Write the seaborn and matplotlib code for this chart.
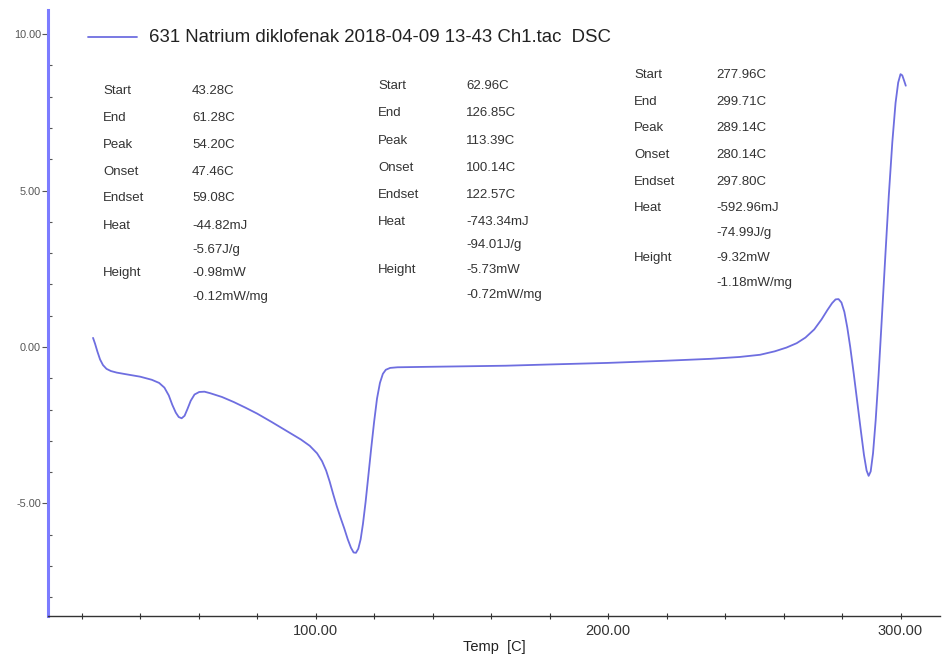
import matplotlib
matplotlib.use("Agg")
import matplotlib.pyplot as plt
from matplotlib.ticker import MultipleLocator, FixedLocator
import seaborn as sns
import pandas as pd

# ---- data ----
temp_c = [23.9, 24.6, 25.4, 26.3, 27.3, 28.5, 30.0, 32.0, 35.0, 40.0, 44.0, 46.5, 48.3,
          49.8, 51.0, 52.2, 53.2, 54.2, 55.2, 56.2, 57.3, 58.6, 60.2, 62.0, 64.0, 68.0,
          72.0, 76.0, 80.0, 85.0, 90.0, 95.0, 98.0, 100.5, 102.2, 103.6, 104.8, 106.0,
          107.2, 108.5, 109.8, 111.0, 112.1, 113.0, 113.8, 114.6, 115.4, 116.2, 117.1,
          118.0, 119.0, 120.0, 121.0, 122.0, 123.0, 124.0, 125.5, 128.0, 135.0,
          150.0, 165.0, 180.0, 200.0, 220.0, 235.0, 245.0, 252.0, 257.0, 261.0,
          264.5, 267.5, 270.5, 273.0, 275.0, 276.6, 277.8, 278.8, 279.8, 280.8,
          281.8, 282.8, 284.0, 285.2, 286.4, 287.5, 288.4, 289.1, 289.8, 290.6,
          291.5, 292.5, 293.6, 294.8, 296.0, 297.2, 298.3, 299.2, 300.0, 300.6,
          301.2, 301.8]
dsc_mw = [0.29, 0.10, -0.15, -0.40, -0.58, -0.70, -0.77, -0.82, -0.87, -0.95, -1.05, -1.15, -1.30,
          -1.55, -1.85, -2.10, -2.24, -2.28, -2.20, -1.98, -1.72, -1.52, -1.44, -1.43, -1.48, -1.60,
          -1.76, -1.94, -2.13, -2.40, -2.68, -2.96, -3.16, -3.40, -3.65, -3.95, -4.30, -4.70,
          -5.08, -5.45, -5.80, -6.15, -6.42, -6.57, -6.58, -6.45, -6.15, -5.65, -4.95,
          -4.15, -3.25, -2.40, -1.65, -1.15, -0.86, -0.73, -0.67, -0.65, -0.64,
          -0.62, -0.60, -0.56, -0.51, -0.44, -0.38, -0.32, -0.25, -0.14, -0.02,
          0.12, 0.30, 0.56, 0.88, 1.18, 1.40, 1.52, 1.53, 1.42, 1.12,
          0.62, 0.00, -0.85, -1.75, -2.65, -3.45, -3.95, -4.12, -3.98, -3.40,
          -2.35, -0.90, 0.90, 2.90, 4.85, 6.55, 7.80, 8.45, 8.72, 8.68,
          8.52, 8.35]

legend_label = "631 Natrium diklofenak 2018-04-09 13-43 Ch1.tac  DSC"
x_major = [100, 200, 300]
x_labels = ["100.00", "200.00", "300.00"]
y_major = [-5, 0, 5, 10]
y_labels = ["-5.00", "0.00", "5.00", "10.00"]

block_keys = ["Start", "End", "Peak", "Onset", "Endset", "Heat", "", "Height", ""]
block1_vals = ["43.28C", "61.28C", "54.20C", "47.46C", "59.08C", "-44.82mJ", "-5.67J/g",
               "-0.98mW", "-0.12mW/mg"]
block2_vals = ["62.96C", "126.85C", "113.39C", "100.14C", "122.57C", "-743.34mJ", "-94.01J/g",
               "-5.73mW", "-0.72mW/mg"]
block3_vals = ["277.96C", "299.71C", "289.14C", "280.14C", "297.80C", "-592.96mJ", "-74.99J/g",
               "-9.32mW", "-1.18mW/mg"]

# ---- figure ----
sns.set_style("white")
plt.rcParams["font.family"] = ["Liberation Sans", "DejaVu Sans"]

W, H = 944, 661
fig = plt.figure(figsize=(W / 100, H / 100), dpi=100)
ax = fig.add_axes([48 / W, 1 - 616 / H, (940 - 48) / W, (616 - 10) / H])

df = pd.DataFrame({"Temp": temp_c, "DSC": dsc_mw})
line_color = "#6e6ee0"
sns.lineplot(data=df, x="Temp", y="DSC", ax=ax, sort=False, color=line_color,
             linewidth=1.3, legend=False)

ax.set_xlim(8.5, 313.5)
ax.set_ylim(-8.6, 10.77)

for s in ["top", "right"]:
    ax.spines[s].set_visible(False)
ax.spines["left"].set_color("#7c7cff")
ax.spines["left"].set_linewidth(2.2)
ax.spines["bottom"].set_color("#333333")
ax.spines["bottom"].set_linewidth(1.0)

ax.xaxis.set_major_locator(FixedLocator(x_major))
ax.set_xticklabels(x_labels)
ax.xaxis.set_minor_locator(MultipleLocator(20))
ax.tick_params(axis="x", which="both", direction="inout", length=5, width=0.8,
               color="#333333", labelsize=10.5, labelcolor="#333333", pad=3)
ax.tick_params(axis="x", which="both", bottom=True)

ax.yaxis.set_major_locator(FixedLocator(y_major))
ax.set_yticklabels(y_labels)
ax.yaxis.set_minor_locator(MultipleLocator(1))
ax.tick_params(axis="y", which="major", direction="out", length=4, width=0.8,
               color="#555555", labelsize=7.8, labelcolor="#555555", pad=1, left=True)
ax.tick_params(axis="y", which="minor", direction="in", length=3, width=0.8,
               color="#555555", left=True)

ax.set_xlabel("Temp  [C]", fontsize=10.5, color="#222222", labelpad=2)
ax.set_ylabel("")

# legend (drawn like the instrument software's header)
fig.lines.append(plt.Line2D([88 / W, 137 / W], [1 - 37 / H, 1 - 37 / H],
                            color=line_color, linewidth=1.3, transform=fig.transFigure))
fig.text(149 / W, 1 - 37 / H, legend_label, fontsize=13.4, color="#222222",
         va="center", ha="left")

def block(xk, xv, ys, vals):
    for k, v, y in zip(block_keys, vals, ys):
        if k:
            fig.text(xk / W, 1 - y / H, k, fontsize=9.5, color="#333333", va="center", ha="left")
        fig.text(xv / W, 1 - y / H, v, fontsize=9.5, color="#333333", va="center", ha="left")

block(103, 192, [91, 118, 145, 172, 198, 226, 250, 273, 297], block1_vals)
block(378, 466, [86, 113, 141, 168, 195, 222, 245, 270, 295], block2_vals)
block(634, 716, [75, 102, 128, 155, 182, 208, 233, 258, 283], block3_vals)

fig.savefig("out.png", dpi=100)
